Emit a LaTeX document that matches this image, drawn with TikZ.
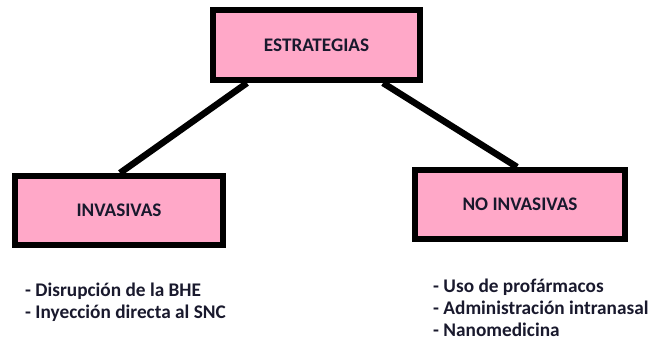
\documentclass[tikz,border=0pt]{standalone}
\usepackage{fontspec}
\setmainfont{Carlito}
\definecolor{boxpink}{RGB}{255,168,200}
\definecolor{txtdark}{RGB}{25,25,45}
\begin{document}
\begin{tikzpicture}[x=1pt,y=1pt,
  catbox/.style={draw=black, line width=6pt, fill=boxpink, rectangle, inner sep=0pt,
    font=\fontsize{19.2}{22}\selectfont\bfseries, text=txtdark},
  link/.style={draw=black, line width=6.5pt},
  itemlist/.style={align=left, inner sep=0pt, anchor=west,
    font=\fontsize{19.3}{22}\selectfont\bfseries, text=txtdark}]
\useasboundingbox (0,0) rectangle (649,342);
\node[catbox, minimum width=207pt, minimum height=70pt] (top) at (316.5,297) {ESTRATEGIAS};
\node[catbox, minimum width=208pt, minimum height=69pt] (left) at (119,131.5) {INVASIVAS};
\node[catbox, minimum width=210pt, minimum height=69pt] (right) at (520,137.5) {NO INVASIVAS};
\draw[link] ([xshift=37pt]top.south west) -- ([xshift=108pt]left.north west);
\draw[link] ([xshift=-40pt]top.south east) -- ([xshift=105pt]right.north west);
\node[itemlist] (leftlist) at (25,39.5) {- Disrupción de la BHE\\- Inyección directa al SNC};
\node[itemlist] (rightlist) at (433,34.5) {- Uso de profármacos\\- Administración intranasal\\- Nanomedicina};
\end{tikzpicture}
\end{document}
